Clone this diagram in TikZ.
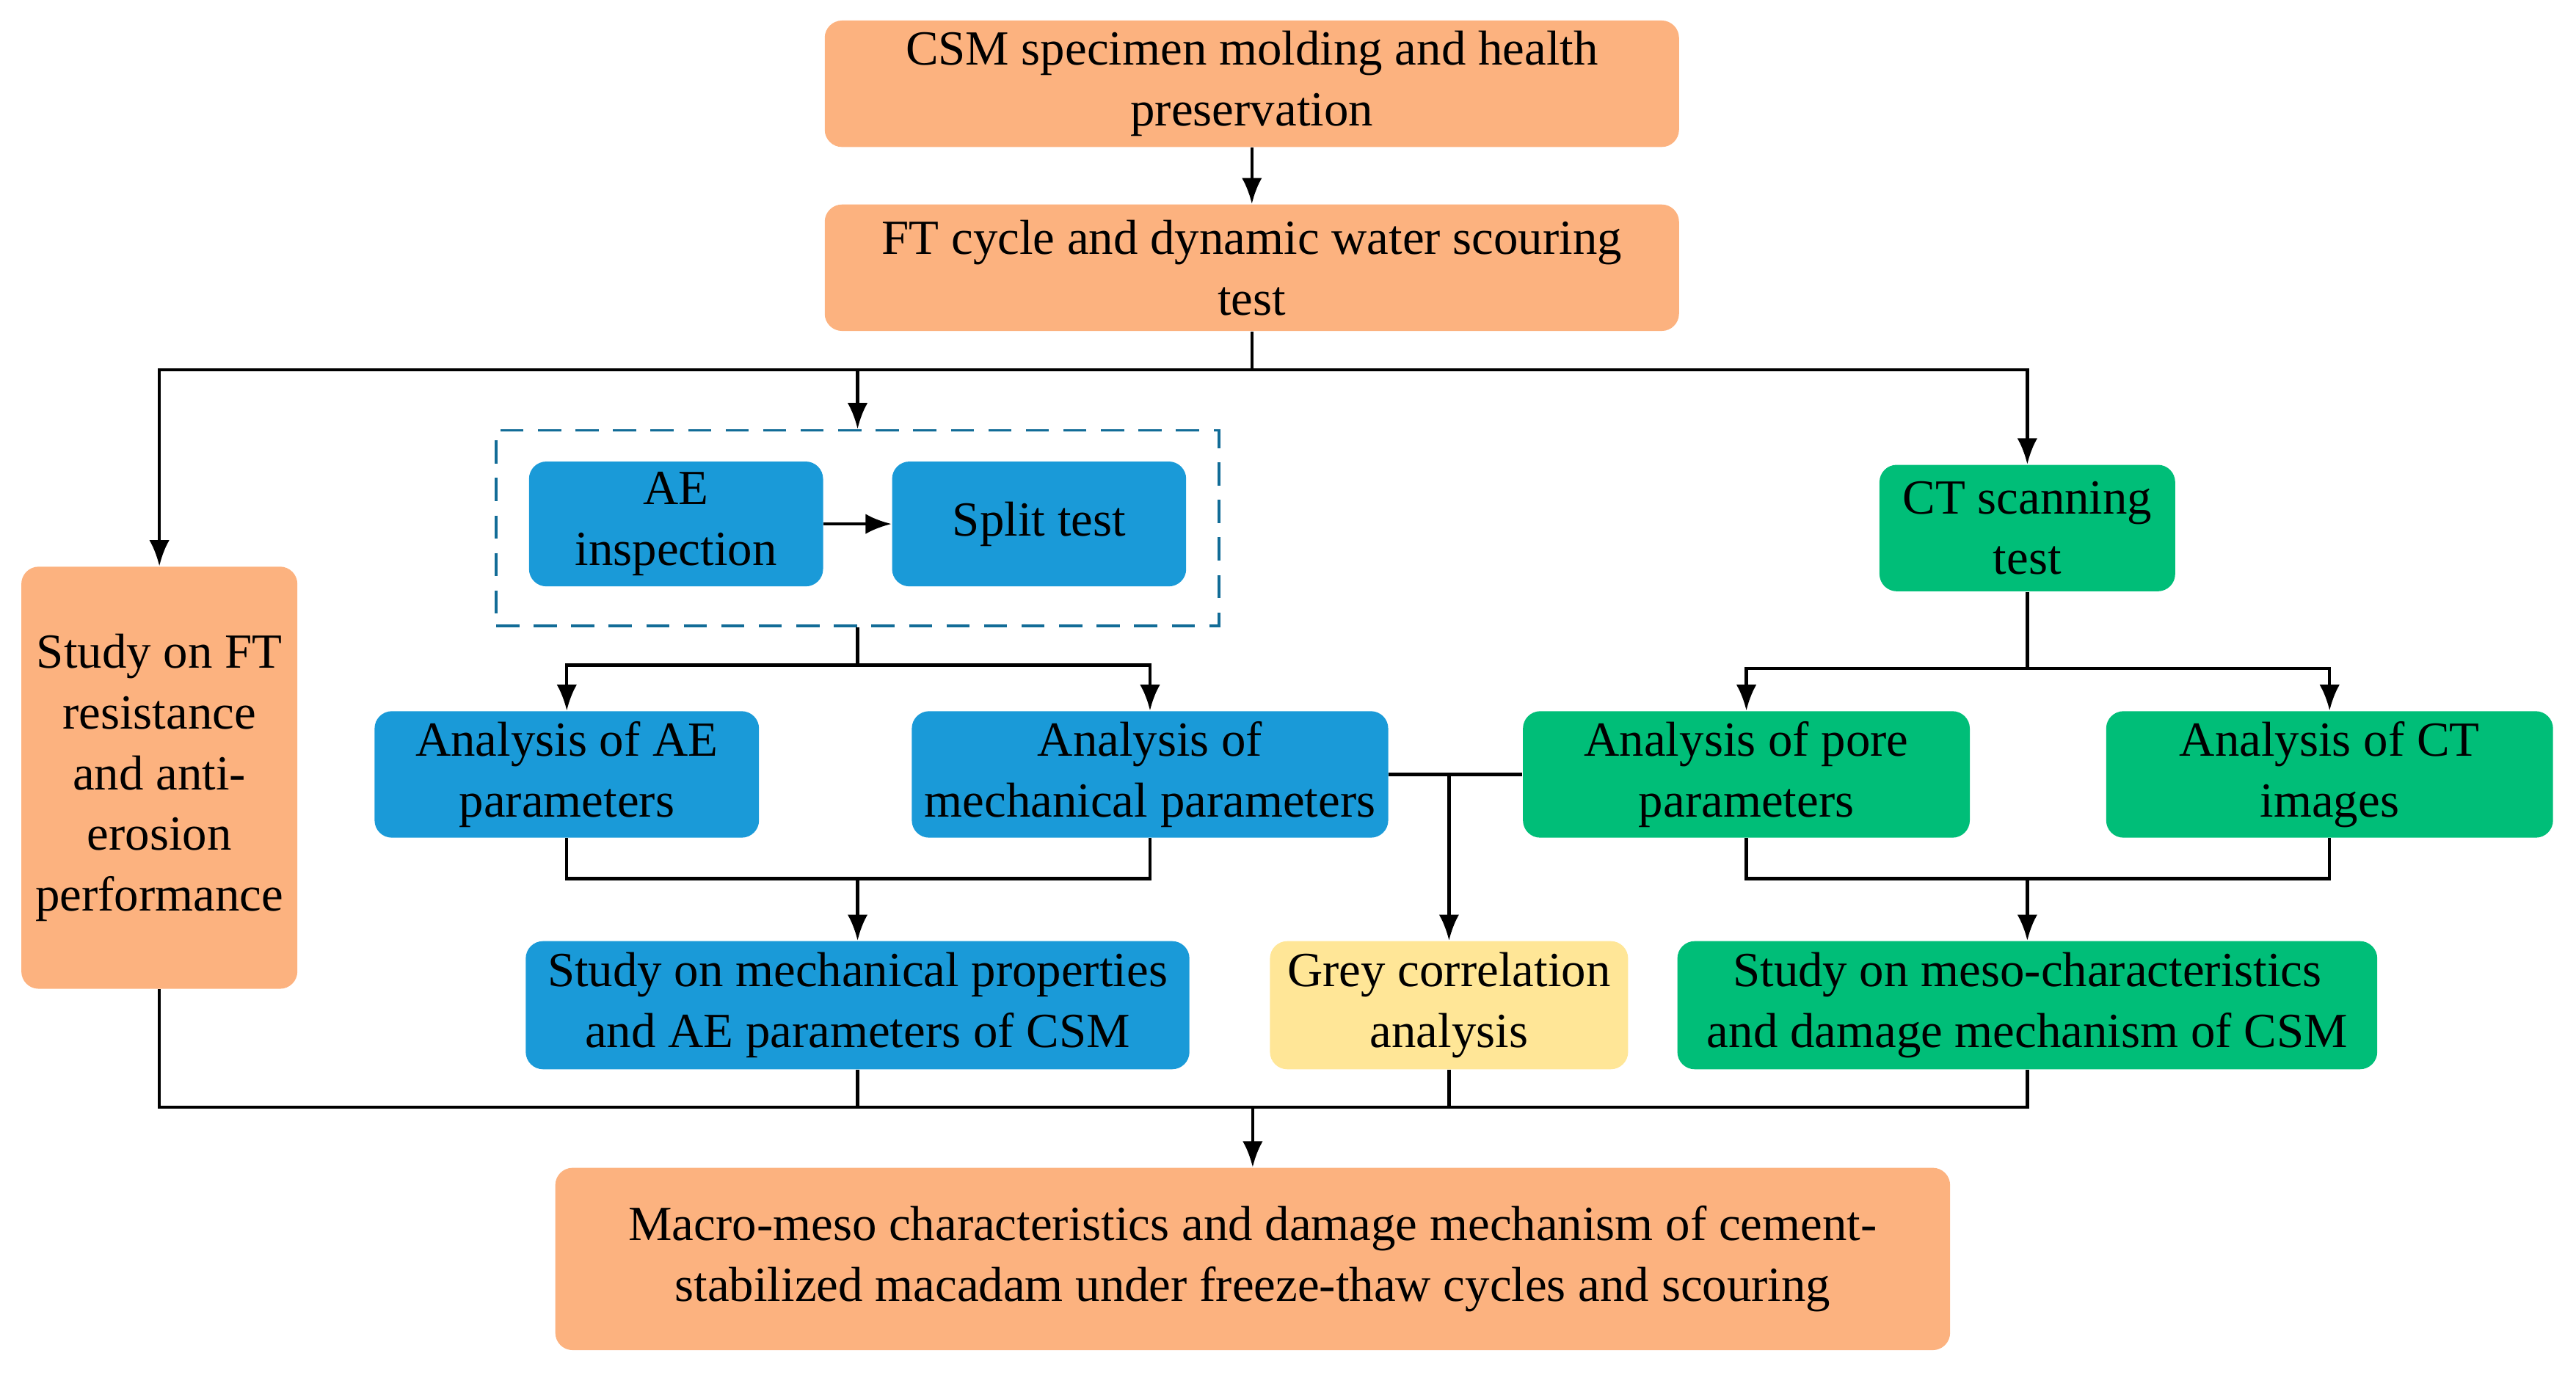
\documentclass[tikz,border=0pt]{standalone}
\usepackage{fontspec}
\setmainfont{Liberation Serif}
\usetikzlibrary{arrows.meta}
\definecolor{cor}{HTML}{FCB27F}
\definecolor{cbl}{HTML}{1A9AD8}
\definecolor{cgr}{HTML}{00BE78}
\definecolor{cye}{HTML}{FFE697}
\begin{document}
\begin{tikzpicture}[
 box/.style={rectangle,rounded corners=6pt,align=center,inner sep=1pt,font=\fontsize{17}{21}\selectfont},
 ln/.style={line width=1.1pt},
 ar/.style={ln,-{Latex[length=9pt,width=7pt]}}]
\useasboundingbox (0,0) rectangle (31.36,-16.74);
\node[box,fill=cor,minimum width=10.4cm,minimum height=1.54cm] (t1) at (15.24,-1.02) {CSM specimen molding and health\\preservation};
\node[box,fill=cor,minimum width=10.4cm,minimum height=1.54cm] (t2) at (15.24,-3.26) {FT cycle and dynamic water scouring\\test};
\node[box,fill=cor,minimum width=3.36cm,minimum height=5.14cm] (lf) at (1.94,-9.47) {Study on FT\\resistance\\and anti-\\erosion\\performance};
\node[draw=cbl!70!black,line width=1pt,dash pattern=on 8pt off 5pt,minimum width=8.8cm,minimum height=2.38cm] (db) at (10.44,-6.43) {};
\node[box,fill=cbl,minimum width=3.58cm,minimum height=1.52cm] (ae) at (8.23,-6.38) {AE\\inspection};
\node[box,fill=cbl,minimum width=3.58cm,minimum height=1.52cm] (sp) at (12.65,-6.38) {Split test};
\node[box,fill=cgr,minimum width=3.6cm,minimum height=1.54cm] (ct) at (24.68,-6.43) {CT scanning\\test};
\node[box,fill=cbl,minimum width=4.68cm,minimum height=1.54cm] (ap) at (6.9,-9.43) {Analysis of AE\\parameters};
\node[box,fill=cbl,minimum width=5.8cm,minimum height=1.54cm] (mp) at (14.0,-9.43) {Analysis of\\mechanical parameters};
\node[box,fill=cgr,minimum width=5.44cm,minimum height=1.54cm] (pp) at (21.26,-9.43) {Analysis of pore\\parameters};
\node[box,fill=cgr,minimum width=5.44cm,minimum height=1.54cm] (ci) at (28.36,-9.43) {Analysis of CT\\images};
\node[box,fill=cbl,minimum width=8.08cm,minimum height=1.56cm] (sm) at (10.44,-12.24) {Study on mechanical properties\\and AE parameters of CSM};
\node[box,fill=cye,minimum width=4.36cm,minimum height=1.56cm] (gr) at (17.64,-12.24) {Grey correlation\\analysis};
\node[box,fill=cgr,minimum width=8.52cm,minimum height=1.56cm] (ms) at (24.68,-12.24) {Study on meso-characteristics\\and damage mechanism of CSM};
\node[box,fill=cor,minimum width=16.98cm,minimum height=2.22cm] (bt) at (15.25,-15.33) {Macro-meso characteristics and damage mechanism of cement-\\stabilized macadam under freeze-thaw cycles and scouring};
\coordinate (j1) at (15.24,-4.5);
\draw[ar] (t1) -- (t2);
\draw[ln] (t2) -- (j1);
\draw[ar] (j1) -| (lf.north);
\draw[ar] (j1) -| (ct.north);
\draw[ar] (10.44,-4.5) -- (db.north);
\draw[ar] (ae) -- (sp);
\coordinate (j2) at (10.44,-8.1);
\draw[ln] (db.south) -- (j2);
\draw[ar] (j2) -| (ap.north);
\draw[ar] (j2) -| (mp.north);
\coordinate (j3) at (24.68,-8.14);
\draw[ln] (ct.south) -- (j3);
\draw[ar] (j3) -| (pp.north);
\draw[ar] (j3) -| (ci.north);
\draw[ln] (mp.east) -- (pp.west);
\draw[ar] (17.64,-9.43) -- (gr.north);
\draw[ln] (ap.south) |- (14.0,-10.7) -- (mp.south);
\draw[ar] (10.44,-10.7) -- (sm.north);
\draw[ln] (pp.south) |- (28.36,-10.7) -- (ci.south);
\draw[ar] (24.68,-10.7) -- (ms.north);
\draw[ln] (lf.south) |- (24.68,-13.48) -- (ms.south);
\draw[ln] (sm.south) -- (10.44,-13.48);
\draw[ln] (gr.south) -- (17.64,-13.48);
\draw[ar] (15.25,-13.48) -- (bt.north);
\end{tikzpicture}
\end{document}
